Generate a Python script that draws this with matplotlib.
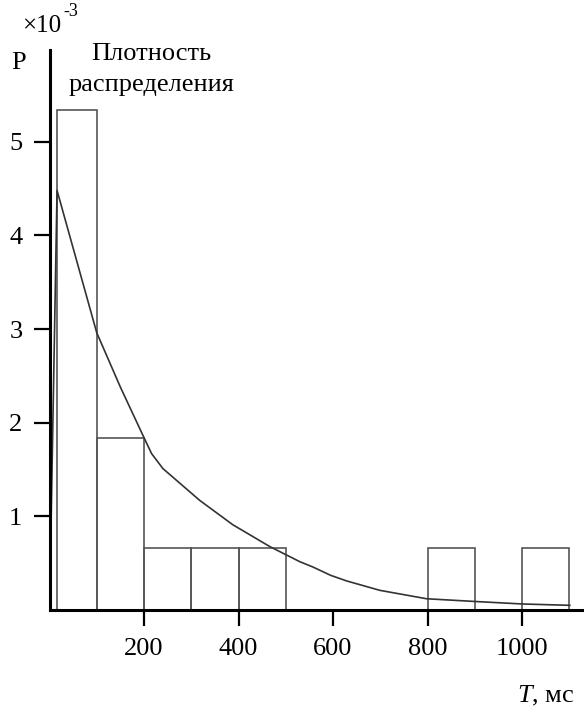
import matplotlib as mpl
mpl.use('Agg')
import matplotlib.pyplot as plt

# histogram of intervals (T, ms) and density (x1e-3)
bin_left = [15, 100, 200, 300, 400, 800, 1000]
bin_width = [85, 100, 100, 100, 100, 100, 100]
bin_height = [5.34, 1.84, 0.665, 0.665, 0.665, 0.665, 0.665]

# fitted density curve
curve_t = [0, 16, 100, 150, 200, 216, 240, 318, 388, 467, 530, 557, 595, 629, 699, 798, 904, 1002, 1101]
curve_p = [0, 4.48, 2.96, 2.38, 1.84, 1.67, 1.51, 1.17, 0.91, 0.675, 0.515, 0.46, 0.37, 0.31, 0.21,
           0.12, 0.09, 0.064, 0.05]

xticks = [200, 400, 600, 800, 1000]
yticks = [1, 2, 3, 4, 5]

W, H = 584, 707
plt.rcParams['font.family'] = ['Liberation Serif', 'DejaVu Serif']
plt.rcParams['mathtext.fontset'] = 'custom'
plt.rcParams['mathtext.rm'] = 'Liberation Serif'
plt.rcParams['mathtext.it'] = 'Liberation Serif:italic'

fig = plt.figure(figsize=(W / 100, H / 100), dpi=100)
ax = fig.add_axes([49.5 / W, 97 / H, (W - 49.5) / W, (610 - 50) / H])

ax.bar(bin_left, bin_height, width=bin_width, align='edge', facecolor='none',
       edgecolor='#555555', linewidth=1.2, zorder=2)
ax.plot(curve_t, curve_p, color='#333333', linewidth=1.2, zorder=3)

ax.set_xlim(0, 1131)
ax.set_ylim(0, 5.98)
ax.set_xticks(xticks)
ax.set_yticks(yticks)
ax.tick_params(axis='both', length=11.5, width=1.6, labelsize=19, color='black')
ax.tick_params(axis='y', pad=8)
ax.tick_params(axis='x', pad=9)

for s in ['top', 'right']:
    ax.spines[s].set_visible(False)
for s in ['left', 'bottom']:
    ax.spines[s].set_linewidth(2.2)
    ax.spines[s].set_zorder(4)

# annotations
fig.text(22 / W, 1 - 26 / H, '\u00d710', fontsize=18, ha='left', va='center')
fig.text(63 / W, 1 - 12 / H, '-3', fontsize=13, ha='left', va='center')
fig.text(19 / W, 1 - 63 / H, 'P', fontsize=19, ha='center', va='center')
fig.text(151 / W, 1 - 54 / H, 'Плотность', fontsize=19, ha='center', va='center')
fig.text(151 / W, 1 - 85 / H, 'распределения', fontsize=19, ha='center', va='center')
fig.text(574 / W, 1 - 696 / H, '$\\mathit{T}$, мс', fontsize=19, ha='right', va='center')

fig.savefig('out.png', dpi=100)
